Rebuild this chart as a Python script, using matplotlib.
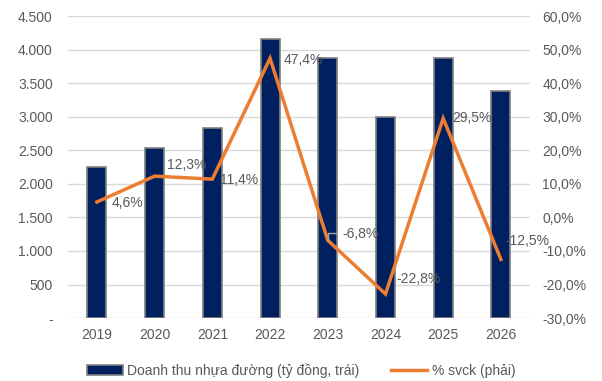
import matplotlib
matplotlib.use("Agg")
import matplotlib.pyplot as plt
from matplotlib.ticker import FixedLocator

plt.rcParams['font.family'] = ['Liberation Sans', 'DejaVu Sans']

years = ["2019", "2020", "2021", "2022", "2023", "2024", "2025", "2026"]
revenue = [2250, 2530, 2830, 4160, 3870, 3000, 3870, 3380]
growth = [4.6, 12.3, 11.4, 47.4, -6.8, -22.8, 29.5, -12.5]
left_ticks = [0, 500, 1000, 1500, 2000, 2500, 3000, 3500, 4000, 4500]
left_labels = ["-", "500", "1.000", "1.500", "2.000", "2.500", "3.000", "3.500", "4.000", "4.500"]
right_ticks = [-30, -20, -10, 0, 10, 20, 30, 40, 50, 60]
right_labels = ["-30,0%", "-20,0%", "-10,0%", "0,0%", "10,0%", "20,0%", "30,0%", "40,0%", "50,0%", "60,0%"]
bar_name = "Doanh thu nhựa đường (tỷ đồng, trái)"
line_name = "% svck (phải)"

# label offsets in pixels (dx, dy) from each line point
label_offsets = [(15, -1), (12, 11), (8, -1), (14, -2), (15, 6), (11, 15), (9, 0), (4, 18)]

NAVY = "#002060"
ORANGE = "#ED7D31"
TXT = "#595959"
GRID = "#D9D9D9"
FS = 10

fig = plt.figure(figsize=(6.02, 3.81), dpi=100)
ax = fig.add_axes([0.113, 0.165, 0.767, 0.793])
ax2 = ax.twinx()

x = list(range(len(years)))
bars = ax.bar(x, revenue, width=0.33, color=NAVY, edgecolor="#808080", linewidth=1.2,
              label=bar_name, zorder=2)
ax.set_ylim(0, 4500)
ax.set_xlim(-0.5, len(years) - 0.5)
ax.yaxis.set_major_locator(FixedLocator(left_ticks))
ax.set_yticklabels(left_labels)
ax.set_xticks(x)
ax.set_xticklabels(years)
ax.grid(axis="y", color=GRID, linewidth=1.0, zorder=0)
ax.set_axisbelow(True)

ln, = ax2.plot(x, growth, color=ORANGE, linewidth=2.5, label=line_name, zorder=3,
               solid_joinstyle="miter")
ax2.set_ylim(-30, 60)
ax2.yaxis.set_major_locator(FixedLocator(right_ticks))
ax2.set_yticklabels(right_labels)

for a in (ax, ax2):
    for s in a.spines.values():
        s.set_visible(False)
    a.tick_params(length=0, colors=TXT, labelsize=FS)
ax.tick_params(axis="y", pad=11)
ax.tick_params(axis="x", pad=7)
ax2.tick_params(axis="y", pad=9)
for lab in ax2.get_yticklabels():
    lab.set_horizontalalignment("left")

for i, (v, (dx, dy)) in enumerate(zip(growth, label_offsets)):
    txt = f"{v:.1f}%".replace(".", ",")
    ax2.annotate(txt, (i, v), xytext=(dx, dy), textcoords="offset pixels",
                 ha="left", va="center", fontsize=FS, color=TXT, zorder=4)

# leader line for the 2023 label
ax2.annotate("", (4, growth[4]), xytext=(9, 7), textcoords="offset pixels",
             arrowprops=dict(arrowstyle="-", color="#A6A6A6", lw=1.0,
                             connectionstyle="angle,angleA=0,angleB=90,rad=0",
                             shrinkA=0, shrinkB=0))

fig.legend([bars, ln], [bar_name, line_name], loc="center", bbox_to_anchor=(0.5, 0.028),
           ncol=2, frameon=False, fontsize=FS, labelcolor=TXT, handlelength=2.6,
           handleheight=0.7, columnspacing=2.3, handletextpad=0.3)

fig.savefig("out.png", dpi=100)
